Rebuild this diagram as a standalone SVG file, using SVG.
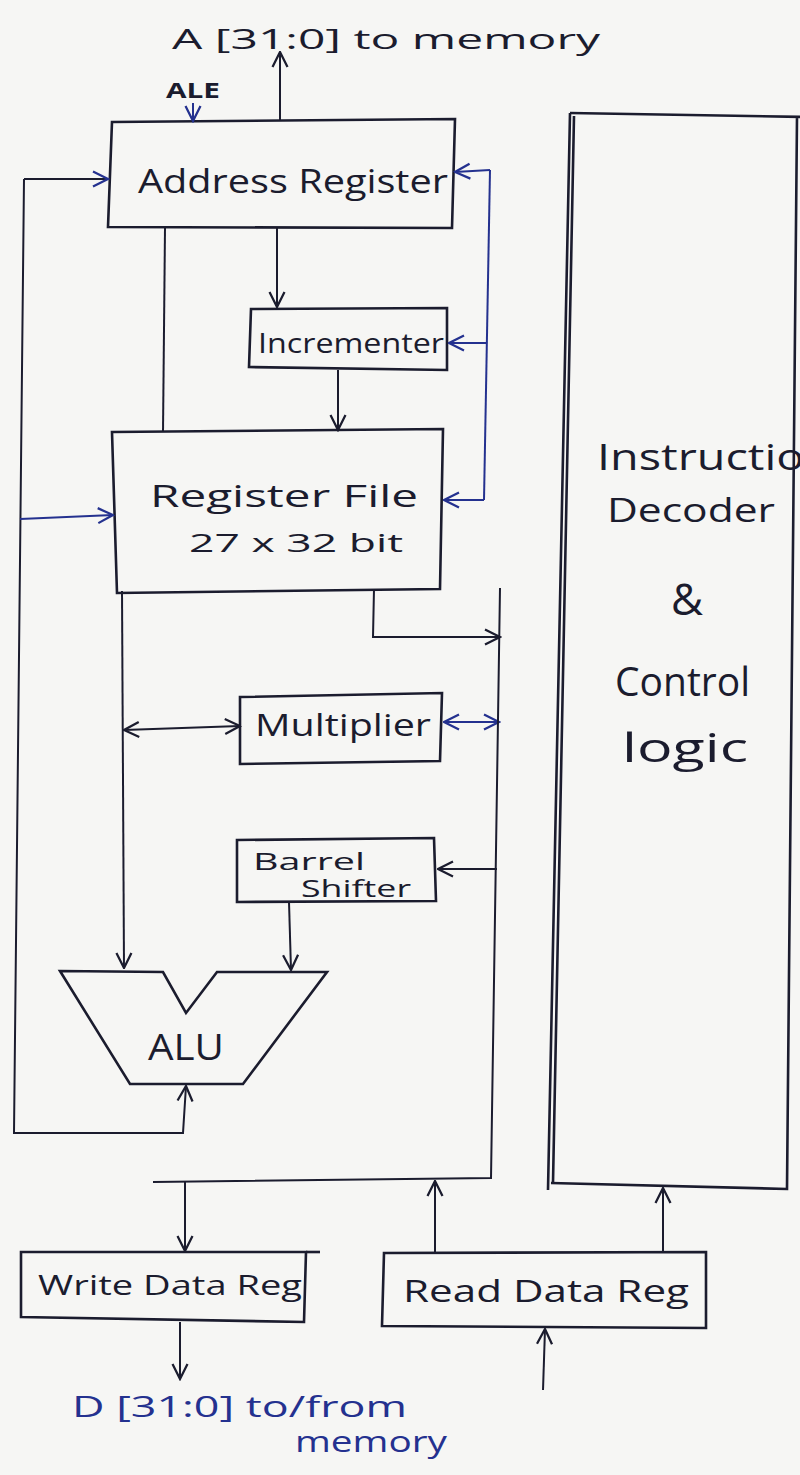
<svg xmlns="http://www.w3.org/2000/svg" width="800" height="1475" viewBox="0 0 800 1475">
<defs>
<style>
.bg{fill:#f6f6f4}
.box{fill:none;stroke:#1b1c2e;stroke-width:2.6;stroke-linejoin:miter}
.ln{fill:none;stroke:#1b1c2e;stroke-width:2}
.bl{fill:none;stroke:#24318f;stroke-width:2}
.t{font-family:"Open Sans","Liberation Sans",sans-serif;fill:#1b1c2e}
.tb{font-family:"Open Sans","Liberation Sans",sans-serif;fill:#24318f}
</style>
<marker id="ah" viewBox="0 0 12 12" refX="11" refY="6" markerWidth="18" markerHeight="18" markerUnits="userSpaceOnUse" orient="auto-start-reverse">
<path d="M1,1 L11,6 L1,11" fill="none" stroke="#1b1c2e" stroke-width="1.5"/>
</marker>
<marker id="ahb" viewBox="0 0 12 12" refX="11" refY="6" markerWidth="18" markerHeight="18" markerUnits="userSpaceOnUse" orient="auto-start-reverse">
<path d="M1,1 L11,6 L1,11" fill="none" stroke="#24318f" stroke-width="1.5"/>
</marker>
</defs>
<rect class="bg" x="0" y="0" width="800" height="1475"/>

<g id="labels">
<text class="t" x="172" y="49" font-size="28" textLength="428" lengthAdjust="spacingAndGlyphs">A [31:0] to memory</text>
<text class="t" x="166" y="98" font-size="22" font-weight="bold" textLength="54" lengthAdjust="spacingAndGlyphs">ALE</text>
<text class="tb" x="72" y="1417" font-size="30" textLength="335" lengthAdjust="spacingAndGlyphs">D [31:0] to/from</text>
<text class="tb" x="295" y="1452" font-size="30" textLength="152" lengthAdjust="spacingAndGlyphs">memory</text>
</g>

<g id="address-register">
<polygon class="box" points="112,122 455,119 452,228 108,227"/>
<text class="t" x="138" y="193" font-size="33" textLength="310" lengthAdjust="spacingAndGlyphs">Address Register</text>
</g>

<g id="incrementer">
<polygon class="box" points="251,309 447,308 447,370 249,367"/>
<text class="t" x="258" y="353" font-size="28" textLength="186" lengthAdjust="spacingAndGlyphs">Incrementer</text>
</g>

<g id="register-file">
<polygon class="box" points="112,432 443,429 440,589 117,593"/>
<text class="t" x="150" y="507" font-size="31" textLength="268" lengthAdjust="spacingAndGlyphs">Register File</text>
<text class="t" x="189" y="552" font-size="25" textLength="214" lengthAdjust="spacingAndGlyphs">27 x 32 bit</text>
</g>

<g id="multiplier">
<polygon class="box" points="240,697 442,693 440,761 240,764"/>
<text class="t" x="255" y="736" font-size="31" textLength="176" lengthAdjust="spacingAndGlyphs">Multiplier</text>
</g>

<g id="barrel-shifter">
<polygon class="box" points="237,840 434,838 436,901 237,902"/>
<text class="t" x="253" y="870" font-size="24" textLength="112" lengthAdjust="spacingAndGlyphs">Barrel</text>
<text class="t" x="301" y="897" font-size="24" textLength="110" lengthAdjust="spacingAndGlyphs">Shifter</text>
</g>

<g id="alu">
<polygon class="box" points="60,971 163,972 186,1013 217,972 327,972 243,1084 130,1084"/>
<text class="t" x="148" y="1060" font-size="36" textLength="76" lengthAdjust="spacingAndGlyphs">ALU</text>
</g>

<g id="instruction-decoder">
<path class="box" d="M570,113 L805,117 M797,117 L787,1189 L551,1183"/>
<path class="box" d="M570,113 L548,1190 M574,116 L553,1183"/>
<text class="t" x="597" y="470" font-size="36" textLength="236" lengthAdjust="spacingAndGlyphs">Instruction</text>
<text class="t" x="607" y="522" font-size="32" textLength="168" lengthAdjust="spacingAndGlyphs">Decoder</text>
<text class="t" x="687" y="615" font-size="44" text-anchor="middle">&amp;</text>
<text class="t" x="615" y="696" font-size="40" textLength="135" lengthAdjust="spacingAndGlyphs">Control</text>
<text class="t" x="622" y="762" font-size="40" textLength="126" lengthAdjust="spacingAndGlyphs">logic</text>
</g>

<g id="write-data-reg">
<polygon class="box" points="21,1252 306,1252 304,1322 21,1317"/>
<path class="box" d="M306,1252 L320,1252"/>
<text class="t" x="38" y="1295" font-size="28" textLength="264" lengthAdjust="spacingAndGlyphs">Write Data Reg</text>
</g>

<g id="read-data-reg">
<polygon class="box" points="384,1253 706,1252 706,1328 382,1326"/>
<text class="t" x="403" y="1302" font-size="31" textLength="286" lengthAdjust="spacingAndGlyphs">Read Data Reg</text>
</g>

<g id="connectors">
<path class="ln" d="M280,121 L280,52" marker-end="url(#ah)"/>
<path class="bl" d="M193,103 L193,121" marker-end="url(#ahb)"/>
<path class="ln" d="M24,179 L14,1133 L183,1133 L186,1086" marker-end="url(#ah)"/>
<path class="ln" d="M24,179 L108,179" marker-end="url(#ahb)"/>
<path class="bl" d="M20,519 L113,515" marker-end="url(#ahb)"/>
<path class="ln" d="M165,228 L163,432"/>
<path class="ln" d="M277,228 L277,307" marker-end="url(#ah)"/>
<path class="ln" d="M338,370 L338,430" marker-end="url(#ah)"/>
<path class="bl" d="M490,170 L484,500"/>
<path class="bl" d="M490,170 L455,172" marker-end="url(#ahb)"/>
<path class="bl" d="M486,343 L449,343" marker-end="url(#ahb)"/>
<path class="bl" d="M484,500 L444,500" marker-end="url(#ahb)"/>
<path class="ln" d="M374,589 L373,637 L500,637" marker-end="url(#ah)"/>
<path class="ln" d="M122,591 L124,968" marker-end="url(#ah)"/>
<path class="ln" d="M124,730 L240,726" marker-start="url(#ah)" marker-end="url(#ah)"/>
<path class="bl" d="M444,722 L499,722" marker-start="url(#ahb)" marker-end="url(#ahb)"/>
<path class="ln" d="M500,588 L491,1178 L153,1182"/>
<path class="ln" d="M497,869 L438,869" marker-end="url(#ah)"/>
<path class="ln" d="M289,902 L291,970" marker-end="url(#ah)"/>
<path class="ln" d="M185,1182 L185,1251" marker-end="url(#ah)"/>
<path class="ln" d="M435,1252 L435,1181" marker-end="url(#ah)"/>
<path class="ln" d="M663,1252 L663,1188" marker-end="url(#ah)"/>
<path class="ln" d="M543,1390 L545,1329" marker-end="url(#ah)"/>
<path class="ln" d="M180,1322 L180,1379" marker-end="url(#ah)"/>
</g>
</svg>
